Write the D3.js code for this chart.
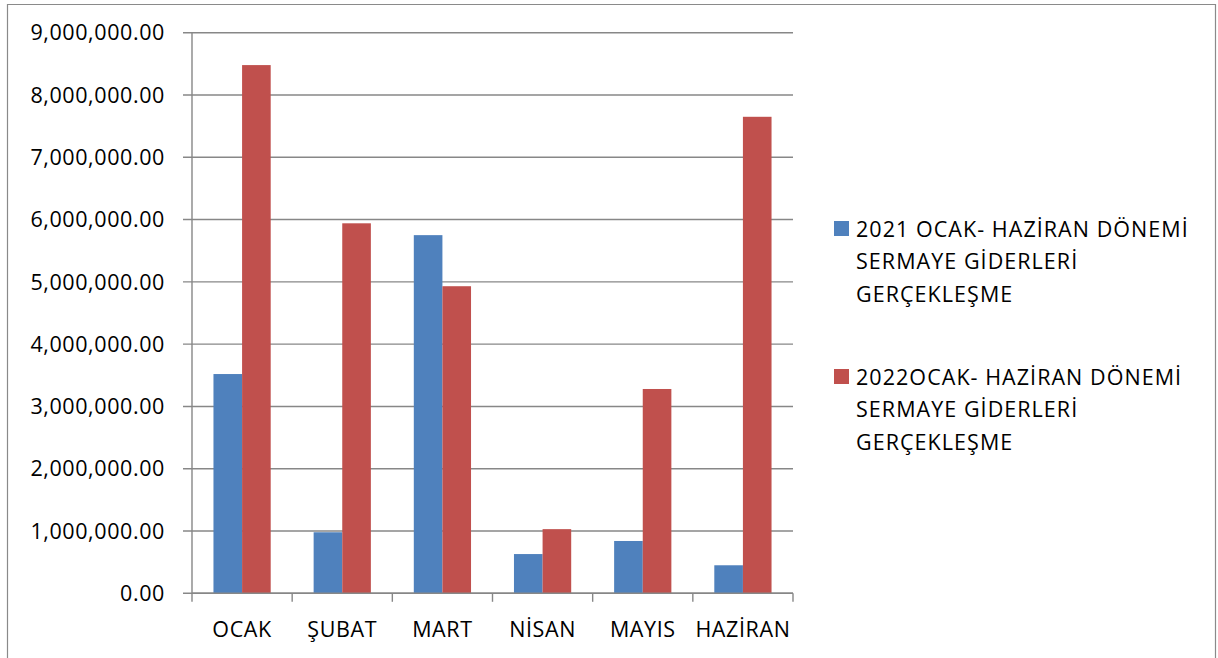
<!DOCTYPE html>
<html>
<head>
<meta charset="utf-8">
<script src="https://cdn.jsdelivr.net/npm/d3@7"></script>
<style>
  html, body { margin: 0; padding: 0; background: #fff; }
  svg { display: block; }
  text { font-family: "Open Sans", sans-serif; fill: #000; letter-spacing: 0.6px; }
  .legend text { letter-spacing: 1.05px; }
</style>
</head>
<body>
<svg id="chart" width="1218" height="658"></svg>
<script>
const categories = ["OCAK", "ŞUBAT", "MART", "NİSAN", "MAYIS", "HAZİRAN"];
const series2021 = [3520000, 980000, 5750000, 630000, 840000, 450000];
const series2022 = [8480000, 5940000, 4930000, 1030000, 3280000, 7650000];
const seriesNames = [
  ["2021 OCAK- HAZİRAN DÖNEMİ", "SERMAYE GİDERLERİ", "GERÇEKLEŞME"],
  ["2022OCAK- HAZİRAN DÖNEMİ", "SERMAYE GİDERLERİ", "GERÇEKLEŞME"]
];
const seriesColors = ["#4F81BD", "#C0504D"];
const yTicks = [0, 1000000, 2000000, 3000000, 4000000, 5000000, 6000000, 7000000, 8000000, 9000000];

const svg = d3.select("#chart");
const W = 1218, H = 658;
const plot = { left: 192, right: 793, top: 32.7, bottom: 593.3 };

// outer chart border
svg.append("path")
  .attr("d", `M7.5,${H + 2} V4.5 H1215.5 V${H + 2}`)
  .attr("fill", "none").attr("stroke", "#8a8a8a").attr("stroke-width", 1.2);

const x = d3.scaleBand().domain(categories)
  .range([plot.left, plot.right]).paddingInner(0.4286).paddingOuter(0.2143);
const xs = d3.scaleBand().domain([0, 1]).range([0, x.bandwidth()]);
const y = d3.scaleLinear().domain([0, 9000000]).range([plot.bottom, plot.top]);

// gridlines
svg.append("g").selectAll("line").data(yTicks).join("line")
  .attr("x1", plot.left - 9).attr("x2", plot.right)
  .attr("y1", d => y(d)).attr("y2", d => y(d))
  .attr("stroke", "#878787").attr("stroke-width", 1.4);

// y labels
const fmt = d3.format(",.2f");
svg.append("g").selectAll("text").data(yTicks).join("text")
  .attr("x", 165).attr("y", d => y(d)).attr("dy", "0.36em")
  .attr("text-anchor", "end").attr("font-size", 21.5)
  .text(d => fmt(d));

// bars
const data = categories.map((c, i) => ({ c, v: [series2021[i], series2022[i]] }));
const groups = svg.append("g").selectAll("g").data(data).join("g")
  .attr("transform", d => `translate(${x(d.c)},0)`);
groups.selectAll("rect").data(d => d.v.map((v, k) => ({ v, k }))).join("rect")
  .attr("x", d => xs(d.k)).attr("width", xs.bandwidth())
  .attr("y", d => y(d.v)).attr("height", d => y(0) - y(d.v))
  .attr("fill", d => seriesColors[d.k]);

// axes lines
svg.append("line").attr("x1", plot.left).attr("x2", plot.left)
  .attr("y1", plot.top).attr("y2", plot.bottom)
  .attr("stroke", "#878787").attr("stroke-width", 1.4);
svg.append("line").attr("x1", plot.left).attr("x2", plot.right)
  .attr("y1", plot.bottom).attr("y2", plot.bottom)
  .attr("stroke", "#878787").attr("stroke-width", 1.4);

// x ticks at category boundaries
const step = x.step();
const bounds = d3.range(categories.length + 1).map(i => plot.left + i * step);
svg.append("g").selectAll("line").data(bounds).join("line")
  .attr("x1", d => d).attr("x2", d => d)
  .attr("y1", plot.bottom).attr("y2", plot.bottom + 8.5)
  .attr("stroke", "#878787").attr("stroke-width", 1.4);

// x labels
svg.append("g").selectAll("text").data(categories).join("text")
  .attr("x", d => x(d) + x.bandwidth() / 2).attr("y", 636.7)
  .attr("text-anchor", "middle").attr("font-size", 21.5)
  .text(d => d);

// legend
const legendTops = [221, 369];
const leg = svg.append("g").attr("class", "legend").selectAll("g").data(seriesNames).join("g")
  .attr("transform", (d, i) => `translate(834,${legendTops[i]})`);
leg.append("rect").attr("width", 15).attr("height", 15)
  .attr("fill", (d, i) => seriesColors[i]);
leg.selectAll("text").data(d => d).join("text")
  .attr("x", 22).attr("y", (d, j) => 15.5 + j * 32.5)
  .attr("font-size", 21.5)
  .text(d => d);
</script>
</body>
</html>
